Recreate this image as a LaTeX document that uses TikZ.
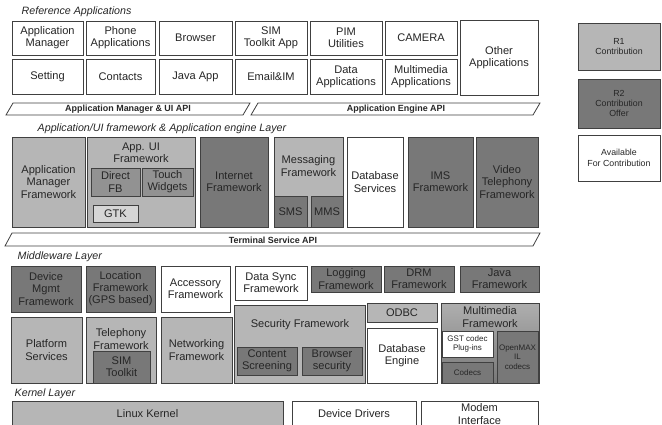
\documentclass[tikz,border=0pt]{standalone}
\usepackage{fontspec}
\setmainfont{Liberation Sans}

\definecolor{rone}{RGB}{182,182,182}
\definecolor{rtwo}{RGB}{120,120,120}
\definecolor{rmid}{RGB}{146,146,146}
\definecolor{rpale}{RGB}{214,214,214}

\begin{document}
\begin{tikzpicture}[x=0.75pt,y=-0.75pt,
  font=\fontsize{8.3}{9.1}\selectfont, text=black!85,
  blk/.style={draw=black!75, line width=0.6pt, inner sep=0pt, align=center},
  wh/.style 2 args={minimum width=#1*0.75pt, minimum height=#2*0.75pt},
  wt/.style={blk, fill=white},
  lt/.style={blk, fill=rone},
  dk/.style={blk, fill=rtwo},
  md/.style={blk, fill=rmid},
  lyr/.style={anchor=west, font=\fontsize{8}{9}\selectfont\itshape},
  api/.style={font=\fontsize{6.7}{7.5}\selectfont\bfseries},
  sm/.style={font=\fontsize{6}{7}\selectfont},
  leg/.style={font=\fontsize{6.6}{7.8}\selectfont},
  bar/.style={draw=black!75, line width=0.6pt, fill=white}]

\useasboundingbox (0,0) rectangle (662,425);

% reference applications
\node[lyr] (refapps) at (17,12) {Reference Applications};

\node[wt, wh={71}{34}] (appmgr) at (47.5,38) {Application\\Manager};
\node[wt, wh={69}{34}] (phone) at (120.5,38) {Phone\\Applications};
\node[wt, wh={73}{34}] (browser) at (195.5,38) {Browser};
\node[wt, wh={72}{34}] (simapp) at (271,38) {SIM\\Toolkit App};
\node[wt, wh={72}{34}] (pim) at (346,38) {PIM\\Utilities};
\node[wt, wh={72}{34}] (camera) at (421,38) {CAMERA};
\node[wt, wh={78}{75}] (other) at (499,57.5) {Other\\Applications};

\node[wt, wh={71}{35}] (setting) at (47.5,76.5) {Setting};
\node[wt, wh={69}{35}] (contacts) at (120.5,76.5) {Contacts};
\node[wt, wh={73}{35}] (javaapp) at (195.5,76.5) {Java App};
\node[wt, wh={72}{35}] (email) at (271,76.5) {Email\&IM};
\node[wt, wh={72}{35}] (dataapp) at (346,76.5) {Data\\Applications};
\node[wt, wh={72}{35}] (mmapp) at (421,76.5) {Multimedia\\Applications};

\draw[bar] (6,115) -- (13,103) -- (250,103) -- (243,115) -- cycle;
\node[api] (uiapi) at (128,109) {Application Manager \& UI API};
\draw[bar] (251,115) -- (258,103) -- (540,103) -- (533,115) -- cycle;
\node[api] (engapi) at (396,109) {Application Engine API};

% legend
\node[lt, leg, wh={82}{47}] (rone) at (619,46.5) {R1\\Contribution};
\node[dk, leg, wh={82}{49}] (rtwo) at (619,103.5) {R2\\Contribution\\Offer};
\node[wt, leg, wh={82}{46}] (avail) at (619,158) {Available\\For Contribution};

% application/ui framework layer
\node[lyr] (fwlayer) at (33,129) {Application/UI framework \& Application engine Layer};

\node[lt, wh={73}{90}] (amfw) at (48.5,182) {Application\\Manager\\Framework};
\node[lt, wh={108}{90}] (appui) at (141,182) {};
\node[align=center] (appuit) at (141,153) {App. UI\\Framework};
\node[md, wh={49}{28}] (directfb) at (115.5,182) {Direct\\FB};
\node[md, wh={51}{28}] (touch) at (167.5,182) {Touch\\Widgets};
\node[blk, fill=rpale, wh={45}{17}] (gtk) at (115.5,213.5) {GTK};
\node[dk, wh={68}{90}] (inetfw) at (234,182) {Internet\\Framework};
\node[lt, wh={69}{90}] (msgfw) at (308.5,182) {};
\node[align=center] (msgfwt) at (308.5,166) {Messaging\\Framework};
\node[dk, wh={33}{31}] (sms) at (290.5,211.5) {SMS};
\node[dk, wh={32}{31}] (mms) at (327,211.5) {MMS};
\node[wt, wh={56}{90}] (dbsvc) at (375,182) {Database\\Services};
\node[dk, wh={65}{90}] (ims) at (440.5,182) {IMS\\Framework};
\node[dk, wh={62}{90}] (vt) at (507,182) {Video\\Telephony\\Framework};

\draw[bar] (5,246) -- (12,233) -- (540,233) -- (533,246) -- cycle;
\node[api] (termapi) at (273,240) {Terminal Service API};

% middleware layer
\node[lyr] (mwlayer) at (13,257) {Middleware Layer};

\node[dk, wh={70}{46}] (devmgmt) at (46,289) {Device\\Mgmt\\Framework};
\node[dk, wh={69}{46}] (location) at (120.5,289) {Location\\Framework\\(GPS based)};
\node[wt, wh={69}{46}] (accessory) at (195.5,289) {Accessory\\Framework};
\node[wt, wh={72}{34}] (datasync) at (271,283) {Data Sync\\Framework};
\node[dk, wh={70}{26}] (logging) at (346,279) {Logging\\Framework};
\node[dk, wh={70}{26}] (drm) at (419,279) {DRM\\Framework};
\node[dk, wh={79}{26}] (javafw) at (499.5,279) {Java\\Framework};

\node[lt, wh={71}{66}] (platform) at (46.5,350) {Platform\\Services};
\node[lt, wh={70}{66}] (telephony) at (121,350) {};
\node[align=center] (telephonyt) at (121,339) {Telephony\\Framework};
\node[dk, wh={57}{32}] (simtk) at (121.5,367) {SIM\\Toolkit};
\node[lt, wh={71}{66}] (networking) at (196.5,350) {Networking\\Framework};
\node[lt, wh={131}{78}] (security) at (299.5,344) {};
\node (securityt) at (300,325) {Security Framework};
\node[dk, wh={60}{28}] (content) at (267,361) {Content\\Screening};
\node[dk, wh={60}{28}] (bsec) at (332,361) {Browser\\security};
\node[lt, wh={70}{19}] (odbc) at (402,312.5) {ODBC};
\node[wt, wh={70}{55}] (dbengine) at (402,355.5) {Database\\Engine};
\node[blk, top color=rone!80!rmid, bottom color=rtwo, wh={98}{80}] (mmfw) at (490,343) {};
\node[align=center] (mmfwt) at (490,317) {Multimedia\\Framework};
\node[wt, sm, wh={51}{26}] (gst) at (467.5,344) {GST codec\\Plug-ins};
\node[dk, sm, wh={51}{21}] (codecs) at (467.5,372.5) {Codecs};
\node[dk, sm, wh={41}{52}] (openmax) at (517.5,357) {OpenMAX\\IL\\codecs};

% kernel layer
\node[lyr] (kernlayer) at (10,394) {Kernel Layer};

\node[lt, wh={271}{26}] (linux) at (147.5,414) {Linux Kernel};
\node[wt, wh={124}{26}] (drivers) at (354,414) {Device Drivers};
\node[wt, wh={117}{26}] (modem) at (479.5,414) {Modem\\Interface};

\end{tikzpicture}
\end{document}
